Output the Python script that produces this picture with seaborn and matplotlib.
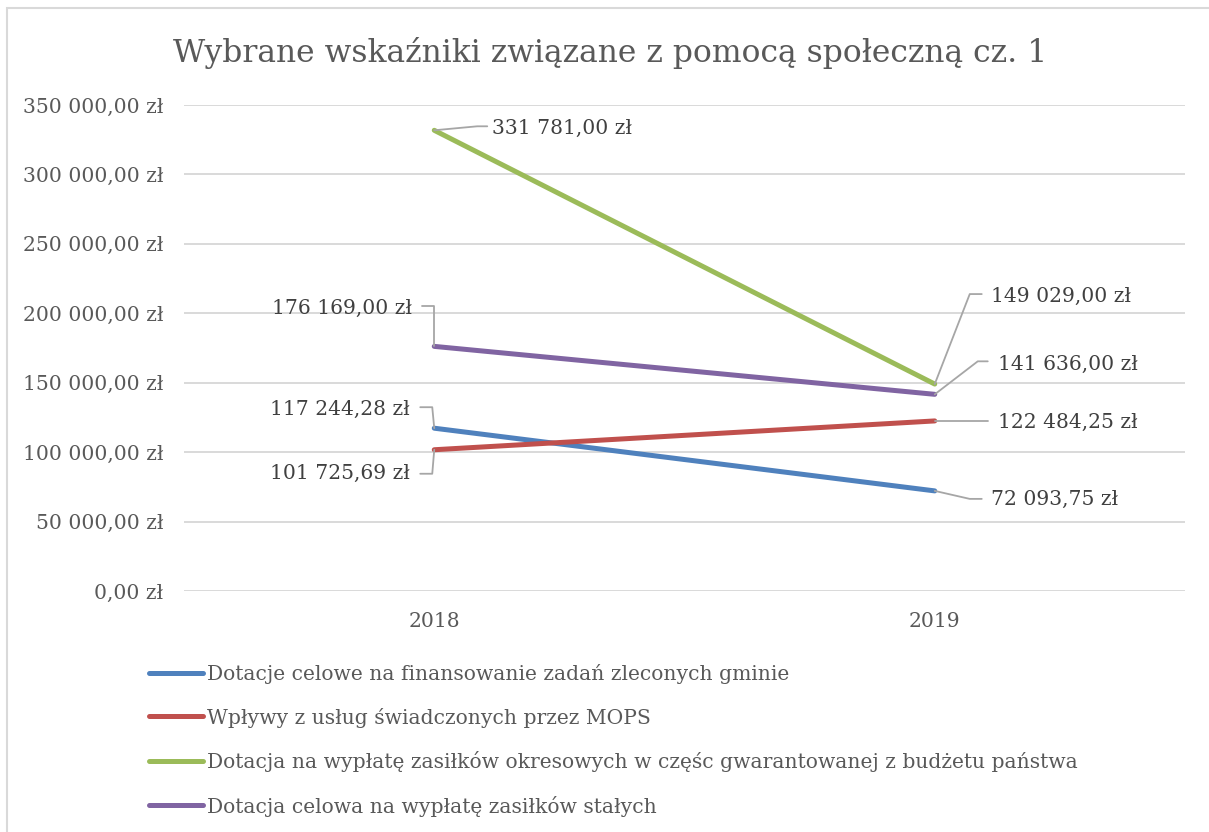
import pandas as pd
import matplotlib
matplotlib.use("Agg")
import matplotlib.pyplot as plt
import matplotlib.transforms as mtransforms
from matplotlib.patches import Rectangle
import seaborn as sns

# Data
years = ["2018", "2019"]
series_names = [
    "Dotacje celowe na finansowanie zadań zleconych gminie",
    "Wpływy z usług świadczonych przez MOPS",
    "Dotacja na wypłatę zasiłków okresowych w częśc gwarantowanej z budżetu państwa",
    "Dotacja celowa na wypłatę zasiłków stałych",
]
dotacje_zlecone = [117244.28, 72093.75]
wplywy_mops = [101725.69, 122484.25]
zasilki_okresowe = [331781.00, 149029.00]
zasilki_stale = [176169.00, 141636.00]
title = "Wybrane wskaźniki związane z pomocą społeczną cz. 1"

colors = ["#4F81BD", "#C0504D", "#9BBB59", "#8064A2"]
values = [dotacje_zlecone, wplywy_mops, zasilki_okresowe, zasilki_stale]

rows = []
for name, vals in zip(series_names, values):
    for y, v in zip(years, vals):
        rows.append({"Rok": y, "Kwota": v, "Seria": name})
df = pd.DataFrame(rows)


def fmt_pln(v):
    s = f"{v:,.2f}".replace(",", " ").replace(".", ",")
    return s + " zł"


sns.set_theme(style="white")
plt.rcParams["font.family"] = ["DejaVu Serif"]
FS = 14.6

W, H = 1209, 832
fig = plt.figure(figsize=(W / 100, H / 100), dpi=100)
ax = fig.add_axes([184 / W, 1 - 591 / H, (1185 - 184) / W, (591 - 105) / H])

sns.lineplot(data=df, x="Rok", y="Kwota", hue="Seria", hue_order=series_names,
             palette=colors, linewidth=3.6, solid_capstyle="round", sort=False,
             ax=ax)

ax.set_xlim(-0.5, 1.5)
ax.set_ylim(0, 350000)
ax.set_yticks(range(0, 350001, 50000))
ax.set_yticklabels([fmt_pln(v) for v in range(0, 350001, 50000)])
ax.yaxis.grid(True, color="#D9D9D9", linewidth=1.4)
ax.xaxis.grid(False)
for sp in ax.spines.values():
    sp.set_visible(False)
ax.tick_params(axis="y", length=0, pad=15, labelsize=FS, labelcolor="#595959")
ax.tick_params(axis="x", length=0, pad=15, labelsize=FS, labelcolor="#595959")
ax.set_xlabel("")
ax.set_ylabel("")

# data labels with leader lines (pixel offsets from the point)
label_layout = {
    (2, 0): ([(0, 0), (43, 4), (53, 4)], (58, 2), "left"),
    (3, 0): ([(0, 0), (0, 40), (-12, 40)], (-22, 38), "right"),
    (0, 0): ([(0, 0), (-2, 21), (-14, 21)], (-24, 19), "right"),
    (1, 0): ([(0, 0), (-2, -24), (-14, -24)], (-24, -24), "right"),
    (2, 1): ([(0, 0), (35, 90), (47, 90)], (56, 88), "left"),
    (3, 1): ([(0, 0), (43, 33), (53, 33)], (63, 30), "left"),
    (1, 1): ([(0, 0), (53, 0)], (63, -1), "left"),
    (0, 1): ([(0, 0), (35, -8), (47, -8)], (56, -9), "left"),
}
for (si, yi), (path, (tx, ty), ha) in label_layout.items():
    val = values[si][yi]
    trans = mtransforms.ScaledTranslation(yi, val, ax.transData)
    xs = [p[0] for p in path]
    ys = [p[1] for p in path]
    line = plt.Line2D(xs, ys, transform=trans, color="#A6A6A6", linewidth=1.3)
    line.set_clip_on(False)
    fig.add_artist(line)
    ax.annotate(fmt_pln(val), xy=(yi, val), xytext=(tx, ty),
                textcoords="offset pixels", ha=ha, va="center",
                fontsize=FS, color="#404040")

# legend
handles, labels = ax.get_legend_handles_labels()
ax.get_legend().remove()
fig.legend(handles, labels, loc="upper left",
           bbox_to_anchor=(149 / W, 1 - 664 / H), frameon=False,
           fontsize=FS, labelcolor="#595959", handlelength=2.66,
           handletextpad=0.22, labelspacing=1.16, borderpad=0,
           borderaxespad=0)

fig.text(610 / W, 1 - 53 / H, title, ha="center", va="center",
         fontsize=22.6, color="#595959")

# chart area border
fig.add_artist(Rectangle((7 / W, -0.1), 1.2, 1 - 8 / H + 0.1,
                         transform=fig.transFigure, fill=False,
                         edgecolor="#D9D9D9", linewidth=1.5))

fig.savefig("out.png", dpi=100)
